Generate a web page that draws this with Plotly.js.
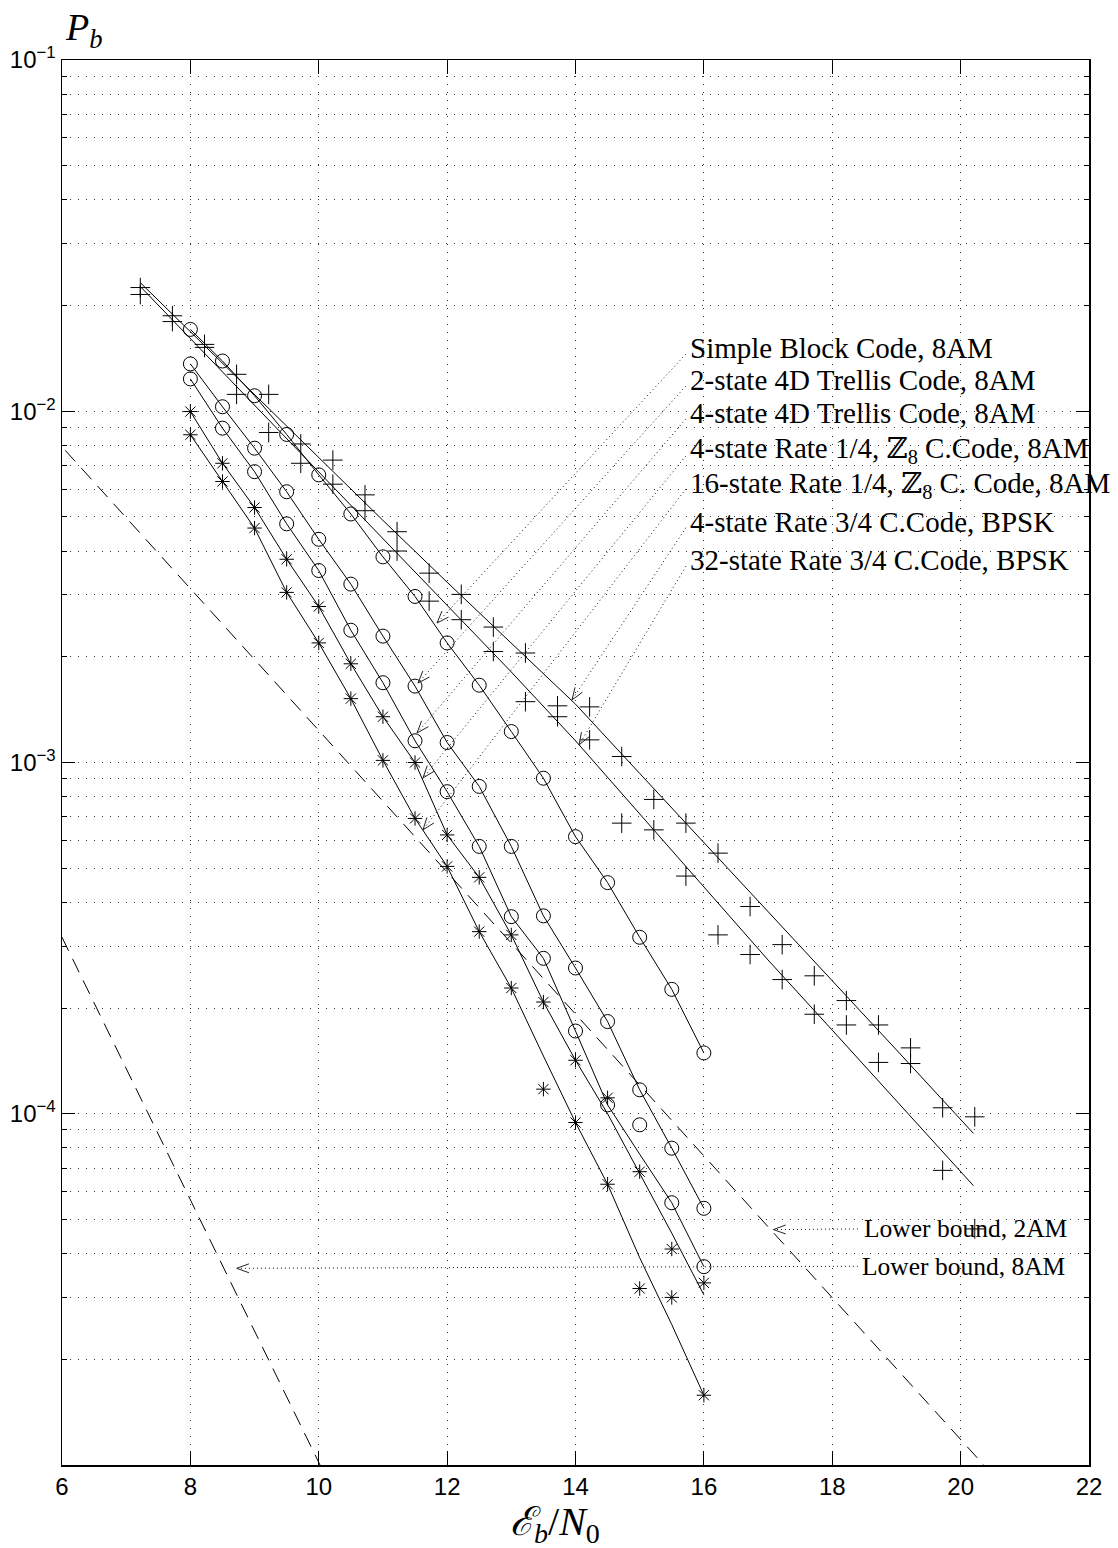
<!DOCTYPE html>
<html><head><meta charset="utf-8">
<script src="https://cdn.plot.ly/plotly-3.0.1.min.js"></script>
<style>html,body{margin:0;padding:0;background:#fff}#chart{width:1118px;height:1548px}</style>
</head><body><div id="chart"></div>
<script>
// ---------- data ----------
const xPlus = [7.22,7.72,8.22,8.72,9.22,9.72,10.22,10.72,11.22,11.72,12.22,12.72,13.22,13.72,14.22,14.72,15.22,15.72,16.22,16.72,17.22,17.72,18.22,18.72,19.22,19.72,20.22];
const plusA = [0.0225,0.0187,0.0155,0.01274,0.01117,0.00807,0.00726,0.00578,0.00454,0.00346,0.00301,0.00243,0.00205,0.00145,0.00144,0.00104,0.000785,0.000672,0.000552,0.000389,0.000303,0.000247,0.00021,0.000179,0.000154,0.000104,0.000098];
const plusB = [0.0215,0.0180,0.0152,0.01117,0.0087,0.00711,0.0062,0.00521,0.00400,0.00288,0.00255,0.00207,0.00149,0.00135,0.00116,0.000672,0.000643,0.000475,0.000323,0.000284,0.000241,0.000192,0.000179,0.00014,0.000139,0.000069,0.000047];

const xFitPlus = [7.22,8,9,10,11,12,13,14,15,16,17,18,19,20.2];
const fitA = [0.02323,0.01683,0.01114,0.00738,0.00489,0.00326,0.00219,0.001466,0.000931,0.000592,0.000378,0.000239,0.000152,0.0000879];
const fitB = [0.02265,0.0161,0.0104,0.00671,0.00434,0.0028,0.00181,0.001153,0.000715,0.000443,0.000274,0.000173,0.0001086,0.0000624];

const xHalf = [8,8.5,9,9.5,10,10.5,11,11.5,12,12.5,13,13.5,14,14.5,15,15.5,16];
const circ1 = [0.0171,0.0139,0.01107,0.00859,0.00659,0.0051,0.00385,0.00297,0.00219,0.00166,0.001225,0.000902,0.000615,0.000455,0.000318,0.000226,0.000149];
const circ2 = [0.01364,0.0103,0.00785,0.0059,0.00432,0.00322,0.00229,0.00165,0.00114,0.000855,0.000577,0.000366,0.00026,0.000183,0.000117,0.0000798,0.0000538];
const circ3 = [0.01236,0.00895,0.00673,0.00478,0.00352,0.00238,0.001687,0.001153,0.000826,0.000577,0.000364,0.000277,0.000172,0.000106,0.000093,0.0000558,0.0000367];
const fitCirc3 = [0.01236,0.00895,0.00673,0.00478,0.00352,0.00238,0.001687,0.001153,0.000826,0.000577,0.000364,0.000277,0.000172,0.000106,0.0000767,0.0000558,0.0000367];
const star1 = [0.00998,0.00711,0.00532,0.00379,0.00278,0.00191,0.00135,0.001,0.000622,0.000471,0.000323,0.000208,0.000142,0.000111,0.0000684,0.0000412,0.000033];
const star2 = [0.00857,0.00631,0.00465,0.00305,0.00219,0.00152,0.001014,0.000693,0.000506,0.00033,0.000228,0.0001175,0.0000944,0.000063,0.0000318,0.00003,0.0000158];
const fitStar1 = [0.00998,0.00711,0.00532,0.00379,0.00278,0.00191,0.00135,0.001,0.000622,0.000471,0.000323,0.000208,0.000142,0.0001,0.0000676,0.0000457,0.0000305];
const fitStar2 = [0.00857,0.00631,0.00465,0.00305,0.00219,0.00152,0.001014,0.000693,0.000506,0.00033,0.000228,0.000146,0.0000944,0.000063,0.0000389,0.0000251,0.0000158];

const xBound2AM = [6.05,20.36];
const bound2AM = [0.00774,0.00001];
const xBound8AM = [6.0,10.02];
const bound8AM = [0.000318,0.00001];

const codeLabels = ["Simple Block Code, 8AM","2-state 4D Trellis Code, 8AM","4-state 4D Trellis Code, 8AM",
  "4-state Rate 1/4, ℤ<sub>8</sub> C.Code, 8AM","16-state Rate 1/4, ℤ<sub>8</sub> C. Code, 8AM",
  "4-state Rate 3/4 C.Code, BPSK","32-state Rate 3/4 C.Code, BPSK"];
const labelX = 15.76;
const labelY = [0.01514,0.01227,0.00989,0.00776,0.00617,0.00484,0.00377];
const arrowStartX = 15.72;
const arrowStartY = [0.01455,0.0118,0.00951,0.00746,0.00601,0.00466,0.00362];
const arrowTipX = [11.842,11.546,11.531,11.624,11.624,13.946,14.055];
const arrowTipY = [0.002495,0.001683,0.001213,0.000904,0.000643,0.001507,0.001122];

const boundLabels = ["Lower bound, 2AM","Lower bound, 8AM"];
const boundLabelX = [18.47,18.44];
const boundLabelY = [0.0000470,0.0000368];
const boundStartX = [18.40,18.40];
const boundTipX = [17.084,8.722];
const boundTipY = [0.0000468,0.0000363];

const xTicks = [6,8,10,12,14,16,18,20,22];
const yTicks = [1e-4,1e-3,1e-2,1e-1];
const yTickText = ["10<sup>−4</sup>","10<sup>−3</sup>","10<sup>−2</sup>","10<sup>−1</sup>"];
const yMinor = [];
[1e-5,1e-4,1e-3,1e-2].forEach(d=>{for(let k=2;k<=9;k++) yMinor.push(d*k);});

// ---------- geometry helpers (plot area) ----------
const W=1118,H=1548, mL=62, mT=60, pW=1027, pH=1405;
const xR=[6,22], yR=[-5,-1];
function toPx(x,v){return [mL+(x-xR[0])/(xR[1]-xR[0])*pW, mT+(yR[1]-Math.log10(v))/(yR[1]-yR[0])*pH];}
function fromPx(p){return [xR[0]+(p[0]-mL)/pW*(xR[1]-xR[0]), Math.pow(10, yR[1]-(p[1]-mT)/pH*(yR[1]-yR[0]))];}
function headPts(tx,tv,sx,sv){
  const t=toPx(tx,tv), s=toPx(sx,sv);
  let dx=s[0]-t[0], dy=s[1]-t[1]; const d=Math.hypot(dx,dy); dx/=d; dy/=d;
  const L=13, a=20*Math.PI/180;
  const rot=(sn)=>[t[0]+L*(dx*Math.cos(a)-dy*sn), t[1]+L*(dx*sn+dy*Math.cos(a))];
  const p1=fromPx(rot(Math.sin(a))), p2=fromPx(rot(-Math.sin(a)));
  return {x:[p1[0],tx,p2[0]], y:[p1[1],tv,p2[1]]};
}

const blk='#000';
const traces=[];
const mk=(sym,size)=>({symbol:sym,size:size,color:blk,line:{color:blk,width:1}});
// dashed lower bounds
traces.push({x:xBound2AM,y:bound2AM,mode:'lines',line:{color:blk,width:1,dash:'15px,9px'}});
traces.push({x:xBound8AM,y:bound8AM,mode:'lines',line:{color:blk,width:1,dash:'15px,9px'}});
// plus series
traces.push({x:xFitPlus,y:fitA,mode:'lines',line:{color:blk,width:1}});
traces.push({x:xFitPlus,y:fitB,mode:'lines',line:{color:blk,width:1}});
traces.push({x:xPlus,y:plusA,mode:'markers',marker:mk('cross-thin-open',14)});
traces.push({x:xPlus,y:plusB,mode:'markers',marker:mk('cross-thin-open',14)});
// circles
traces.push({x:xHalf,y:circ1,mode:'lines+markers',line:{color:blk,width:1},marker:mk('circle-open',14)});
traces.push({x:xHalf,y:circ2,mode:'lines+markers',line:{color:blk,width:1},marker:mk('circle-open',14)});
traces.push({x:xHalf,y:fitCirc3,mode:'lines',line:{color:blk,width:1}});
traces.push({x:xHalf,y:circ3,mode:'markers',marker:mk('circle-open',14)});
// stars
traces.push({x:xHalf,y:fitStar1,mode:'lines',line:{color:blk,width:1}});
traces.push({x:xHalf,y:fitStar2,mode:'lines',line:{color:blk,width:1}});
traces.push({x:xHalf,y:star1,mode:'markers',marker:mk('asterisk-open',12)});
traces.push({x:xHalf,y:star2,mode:'markers',marker:mk('asterisk-open',12)});
// label arrows
for(let i=0;i<codeLabels.length;i++){
  traces.push({x:[arrowStartX,arrowTipX[i]],y:[arrowStartY[i],arrowTipY[i]],mode:'lines',line:{color:'#111',width:1,dash:'1px,3px'}});
  const h=headPts(arrowTipX[i],arrowTipY[i],arrowStartX,arrowStartY[i]);
  traces.push({x:h.x,y:h.y,mode:'lines',line:{color:'#222',width:1}});
}
for(let i=0;i<boundLabels.length;i++){
  traces.push({x:[boundStartX[i],boundTipX[i]],y:[boundLabelY[i],boundTipY[i]],mode:'lines',line:{color:'#111',width:1,dash:'1px,3px'}});
  const h=headPts(boundTipX[i],boundTipY[i],boundStartX[i],boundLabelY[i]);
  traces.push({x:h.x,y:h.y,mode:'lines',line:{color:'#222',width:1}});
}
traces.forEach(t=>{t.type='scatter';t.hoverinfo='skip';t.showlegend=false;t.cliponaxis=true;});

const serif='Liberation Serif, DejaVu Serif, serif';
const annotations=[];
codeLabels.forEach((t,i)=>annotations.push({text:t,x:labelX,y:Math.log10(labelY[i]),xref:'x',yref:'y',xanchor:'left',yanchor:'middle',showarrow:false,font:{family:serif,size:29,color:blk}}));
boundLabels.forEach((t,i)=>annotations.push({text:t,x:boundLabelX[i],y:Math.log10(boundLabelY[i]),xref:'x',yref:'y',xanchor:'left',yanchor:'middle',showarrow:false,font:{family:serif,size:25.5,color:blk}}));
annotations.push({text:'<i>P</i><sub><i>b</i></sub>',xref:'paper',yref:'paper',x:0.001,y:1+30/pH,xanchor:'left',yanchor:'middle',showarrow:false,font:{family:serif,size:38,color:blk}});
annotations.push({text:'<i>ℰ</i><sub><i>b</i></sub>/<i>N</i><sub>0</sub>',xref:'paper',yref:'paper',x:(555-mL)/pW,y:-(1524-mT-pH)/pH,xanchor:'center',yanchor:'middle',showarrow:false,font:{family:serif,size:40,color:blk}});

const gridStyle={showgrid:true,gridcolor:'#333',gridwidth:1,griddash:'1px,7px'};
const tickFont={size:24,color:blk,family:'Liberation Sans, Arial, sans-serif'};
const layout={
  width:W,height:H,margin:{l:mL,r:W-mL-pW,t:mT,b:H-mT-pH,pad:0},
  paper_bgcolor:'#fff',plot_bgcolor:'#fff',showlegend:false,hovermode:false,
  font:{family:'Liberation Sans, Arial, sans-serif',color:blk},
  xaxis:Object.assign({type:'linear',range:xR,tickmode:'array',tickvals:xTicks,ticks:'inside',ticklen:14,tickwidth:1,tickcolor:blk,
    showline:true,linecolor:blk,linewidth:1.5,mirror:'allticks',zeroline:false,tickfont:tickFont},gridStyle),
  yaxis:Object.assign({type:'log',range:yR,tickmode:'array',tickvals:yTicks,ticktext:yTickText,ticks:'inside',ticklen:13,tickwidth:1,tickcolor:blk,
    showline:true,linecolor:blk,linewidth:1.5,mirror:'allticks',zeroline:false,tickfont:tickFont,
    minor:{tickmode:'array',tickvals:yMinor,ticks:'inside',ticklen:5,tickwidth:1,tickcolor:blk,showgrid:true,gridcolor:'#333',gridwidth:1,griddash:'1px,7px'}},gridStyle),
  annotations:annotations
};
Plotly.newPlot('chart',traces,layout,{staticPlot:true,displayModeBar:false});
</script></body></html>
